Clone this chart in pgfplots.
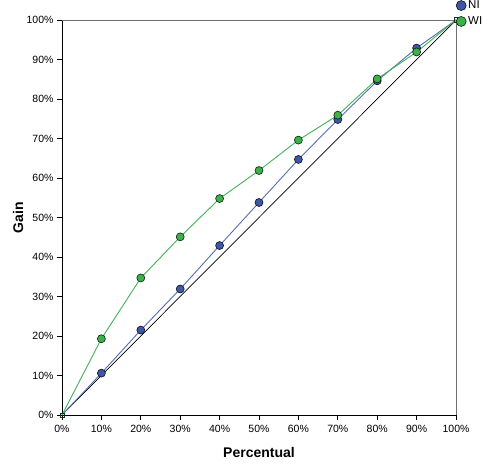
\documentclass[border=0pt]{standalone}
\usepackage{pgfplots}
\pgfplotsset{compat=1.18}
\usepackage{fontspec}
\setmainfont{Liberation Sans}
\definecolor{nifill}{RGB}{62,86,164}
\definecolor{niline}{RGB}{88,108,178}
\definecolor{wifill}{RGB}{60,176,74}
\definecolor{wiline}{RGB}{66,178,88}
\definecolor{framegray}{RGB}{110,110,110}
\begin{document}
\begin{tikzpicture}
\useasboundingbox (-62pt,-49pt) rectangle (432pt,415pt);
\begin{axis}[
  at={(0,0)}, anchor=south west,
  scale only axis, width=394pt, height=395pt,
  xmin=0, xmax=100, ymin=0, ymax=100,
  axis lines=left, axis line style={-, black, line width=0.8pt},
  tick align=outside, major tick length=5pt,
  tick style={black, line width=0.8pt},
  xtick={0,10,...,100}, ytick={0,10,...,100},
  xticklabels={0\%,10\%,20\%,30\%,40\%,50\%,60\%,70\%,80\%,90\%,100\%},
  yticklabels={0\%,10\%,20\%,30\%,40\%,50\%,60\%,70\%,80\%,90\%,100\%},
  ticklabel style={font=\fontsize{10.5}{12}\selectfont},
  xticklabel style={yshift=-1.5pt},
  xlabel={Percentual}, ylabel={Gain},
  label style={font=\fontsize{14}{16}\selectfont\bfseries},
  xlabel style={at={(axis description cs:0.5,0)}, anchor=center, yshift=-37pt},
  ylabel style={at={(axis description cs:0,0.5)}, anchor=center, yshift=44pt},
  clip=false,
  legend style={draw=none, fill=none, at={(axis description cs:1,1)}, anchor=west,
     xshift=0pt, yshift=6.5pt, font=\fontsize{11.5}{12}\selectfont, inner sep=0pt,
     row sep=2.5pt},
  legend cell align=left,
  legend image code/.code={\draw[#1, mark size=5pt] plot coordinates {(5.5pt,0pt)};},
]
\draw[framegray, line width=0.8pt] (rel axis cs:0,1) -- (rel axis cs:1,1) -- (rel axis cs:1,0);
\addplot[black, line width=0.7pt, forget plot] coordinates {(0,0) (100,100)};
\addplot[niline, line width=0.9pt, forget plot]
  coordinates {(0,0) (10,10.6) (20,21.5) (30,31.9) (40,42.9) (50,53.8) (60,64.7) (70,74.8) (80,84.6) (90,92.9) (100,100)};
\addplot[wiline, line width=0.9pt, forget plot]
  coordinates {(0,0) (10,19.3) (20,34.7) (30,45.1) (40,54.8) (50,61.9) (60,69.6) (70,75.9) (80,85.1) (90,91.9) (100,100)};
\addplot[only marks, mark=*, mark size=4pt, mark options={fill=nifill, draw=black!80!nifill, line width=0.6pt}]
  coordinates {(10,10.6) (20,21.5) (30,31.9) (40,42.9) (50,53.8) (60,64.7) (70,74.8) (80,84.6) (90,92.9)};
\addlegendentry{NI}
\addplot[only marks, mark=*, mark size=4pt, mark options={fill=wifill, draw=black!80!wifill, line width=0.6pt}]
  coordinates {(10,19.3) (20,34.7) (30,45.1) (40,54.8) (50,61.9) (60,69.6) (70,75.9) (80,85.1) (90,91.9)};
\addlegendentry{WI}
\addplot[only marks, mark=square, mark size=2.2pt, mark options={draw=black!70!wifill, line width=0.6pt}, forget plot]
  coordinates {(0,0) (100,100)};
\end{axis}
\end{tikzpicture}
\end{document}
